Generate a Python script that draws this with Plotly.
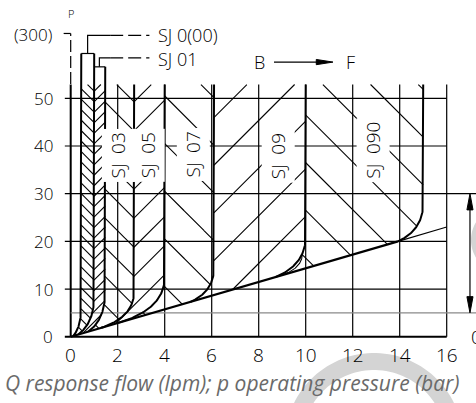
import numpy as np
import plotly.graph_objects as go

# ---------------- data ----------------
x_ticks = [0, 2, 4, 6, 8, 10, 12, 14, 16]
y_ticks = [0, 10, 20, 30, 40, 50]

valve_q      = [0.45, 1.0, 1.47, 2.7, 4.0, 6.1, 10.0, 15.0]
valve_top    = [59.4, 59.4, 56.6, 52.9, 52.9, 52.9, 52.9, 52.9]
valve_bend   = [6.5, 8.5, 9.5, 9.5, 12.5, 14.5, 21.0, 28.0]
valve_meet_q = [0.11, 0.32, 0.75, 1.3, 2.05, 5.1, 8.7, 13.93]

# inner (second) bend line next to SJ 09
inner_q_start, inner_p_start, inner_q_meet = 9.86, 17.5, 8.88

diag_q = [0.0, 13.93, 16.0]
diag_p = [0.0, 20.0, 23.0]

band_names   = ["SJ 03", "SJ 05", "SJ 07", "SJ 09", "SJ 090"]
band_label_q = [2.03, 3.3, 5.2, 8.83, 12.88]
band_label_p = [38.1, 38.1, 38.2, 37.9, 39.1]

hatch_dir    = [-1, 1, -1, 1, -1, 1, -1]
hatch_period = [2.2, 2.2, 6.1, 6.1, 10.0, 10.0, 10.0]
hatch_phase  = [52.0, 49.3, 30.9, 24.9, 30.5, 26.0, 46.5]

# ---------------- geometry helpers ----------------
XR = [-3.0085, 17.2468]
YR = [-13.905, 70.62]
PX_Q = 23.5
PX_P = 4.768
slope = diag_p[1] / diag_q[1]
hatch_top = 52.9
hatch_m = PX_Q / PX_P  # 45 degrees on screen


def bez(q, vtop, vb, qm, n=80):
    vm = slope * qm
    p0 = np.array([q, vb])
    p1 = np.array([q, vm + 0.3 * (vb - vm)])
    p2 = np.array([qm, vm])
    t = np.linspace(0, 1, n)[:, None]
    pts = (1 - t) ** 2 * p0 + 2 * (1 - t) * t * p1 + t ** 2 * p2
    qs = np.concatenate([[q], pts[:, 0]])
    vs = np.concatenate([[vtop], pts[:, 1]])
    return qs, vs


curves = [bez(valve_q[i], valve_top[i], valve_bend[i], valve_meet_q[i]) for i in range(len(valve_q))]


def boundary(i, v):
    qs, vs = curves[i]
    qa = np.concatenate([[0.0], qs[::-1]])
    va = np.concatenate([[0.0], vs[::-1]])
    return np.interp(v, va, qa)


fig = go.Figure()


def add_line(xs, ys, width=1.2, color="black", dash=None):
    fig.add_trace(go.Scatter(x=xs, y=ys, mode="lines",
                             line=dict(color=color, width=width, dash=dash),
                             hoverinfo="skip", showlegend=False))


# grid
gx, gy = [], []
for y in y_ticks[1:]:
    gx += [-0.25, 16, None]
    gy += [y, y, None]
for x in x_ticks[1:]:
    gx += [x, x, None]
    gy += [0, hatch_top, None]
add_line(gx, gy, 1.2)
add_line([-0.25, 16], [0, 0], 2.0)
add_line([0, 0], [0, hatch_top], 2.0)
add_line([0, 0], [53.0, 63.6], 1.2, dash="12px,4px")
add_line([-0.3, 0], [63.6, 63.6], 1.2)
add_line([16, 17.4], [30, 30], 1.2)
add_line([0, 17.4], [5, 5], 1.2, color="#8a8a8a")

# hatching
for r in range(len(hatch_dir)):
    qL = valve_q[r]
    qR = valve_q[r + 1]
    Q = np.arange(0.0, qR + 0.004, 0.004)
    hx, hy = [], []
    for k in range(-40, 60):
        c = hatch_phase[r] + k * hatch_period[r]
        v = c + hatch_dir[r] * hatch_m * (Q - qL)
        ins = (v <= hatch_top) & (v >= slope * Q) & (Q >= boundary(r, v) - 0.01) & (Q <= boundary(r + 1, v) + 0.01)
        if not ins.any():
            continue
        xs = np.where(ins, Q, np.nan)
        ys = np.where(ins, v, np.nan)
        hx += list(xs) + [np.nan]
        hy += list(ys) + [np.nan]
    add_line(hx, hy, 1.1)

# valve curves
for i in range(len(valve_q)):
    qs, vs = curves[i]
    add_line(qs, vs, 2.0)
iq, iv = bez(inner_q_start, inner_p_start, inner_p_start, inner_q_meet)
add_line(iq, iv, 1.1)

# diagonal
add_line(diag_q[:2], diag_p[:2], 2.2)
add_line(diag_q[1:], diag_p[1:], 1.1)

# leaders at top
add_line([valve_q[0], valve_q[1]], [59.4, 59.4], 1.2)
add_line([0.72, 0.72, 1.68], [59.4, 63.2, 63.2], 1.2)
add_line([1.68, 3.35], [63.2, 63.2], 1.2, dash="13px,5px")
add_line([valve_q[1], valve_q[2]], [56.6, 56.6], 1.2)
add_line([1.22, 1.22, 1.68], [56.6, 58.5, 58.5], 1.2)
add_line([1.68, 3.35], [58.5, 58.5], 1.2, dash="13px,5px")

# B -> F arrow
add_line([8.65, 10.55], [57.6, 57.6], 1.2)
fig.add_trace(go.Scatter(x=[10.45, 11.16, 10.45, 10.45], y=[58.15, 57.6, 57.05, 58.15],
                         mode="lines", fill="toself", fillcolor="black",
                         line=dict(color="black", width=1), hoverinfo="skip", showlegend=False))

# right double arrow
add_line([16.99, 16.99], [8.0, 27.0], 1.2)
fig.add_trace(go.Scatter(x=[16.86, 16.99, 17.12, 16.86], y=[26.6, 30.0, 26.6, 26.6],
                         mode="lines", fill="toself", fillcolor="black",
                         line=dict(color="black", width=1), hoverinfo="skip", showlegend=False))
fig.add_trace(go.Scatter(x=[16.86, 16.99, 17.12, 16.86], y=[8.4, 5.0, 8.4, 8.4],
                         mode="lines", fill="toself", fillcolor="black",
                         line=dict(color="black", width=1), hoverinfo="skip", showlegend=False))


# light grey watermark rings (paper coordinates)
def ring_path(cx, cy, r_out, r_in, a0, a1, n=60):
    a = np.linspace(a0, a1, n)
    xo = (cx + r_out * np.cos(a)) / 476
    yo = 1 - (cy - r_out * np.sin(a)) / 403
    xi = (cx + r_in * np.cos(a[::-1])) / 476
    yi = 1 - (cy - r_in * np.sin(a[::-1])) / 403
    pts = [f"{x:.4f},{y:.4f}" for x, y in zip(np.concatenate([xo, xi]), np.concatenate([yo, yi]))]
    return "M" + " L".join(pts) + " Z"


shapes = [
    dict(type="path", xref="paper", yref="paper", layer="below",
         path=ring_path(374, 442, 89, 72, 0.15, np.pi - 0.15),
         fillcolor="#d4d4d4", line=dict(width=0)),
    dict(type="path", xref="paper", yref="paper", layer="below",
         path=ring_path(505, 240, 34, 20, np.pi / 2, 3 * np.pi / 2),
         fillcolor="#d4d4d4", line=dict(width=0)),
]

ann = []
FONT = "Open Sans"
W = 300
for y in y_ticks:
    ann.append(dict(x=-0.66, y=y, text=str(y), xanchor="right", yanchor="middle",
                    showarrow=False, font=dict(family=FONT, size=17, color="black", weight=W)))
for x in x_ticks:
    ann.append(dict(x=x, y=-3.9, text=str(x), xanchor="center", yanchor="middle",
                    showarrow=False, font=dict(family=FONT, size=19, color="black", weight=W)))
ann.append(dict(x=16.93, y=0, text="0", xanchor="left", yanchor="middle",
                showarrow=False, font=dict(family=FONT, size=19, color="black", weight=W)))
ann.append(dict(x=-0.7, y=63.4, text="(300)", xanchor="right", yanchor="middle",
                showarrow=False, font=dict(family=FONT, size=17, color="black", weight=W)))
ann.append(dict(x=0.0, y=67.8, text="P", xanchor="center", yanchor="middle",
                showarrow=False, font=dict(family=FONT, size=11, color="black", weight=W)))
ann.append(dict(x=3.63, y=63.2, text="SJ 0(00)", xanchor="left", yanchor="middle",
                showarrow=False, font=dict(family=FONT, size=18, color="black", weight=W)))
ann.append(dict(x=3.63, y=58.2, text="SJ 01", xanchor="left", yanchor="middle",
                showarrow=False, font=dict(family=FONT, size=18, color="black", weight=W)))
ann.append(dict(x=8.02, y=57.6, text="B", xanchor="center", yanchor="middle",
                showarrow=False, font=dict(family=FONT, size=18, color="black", weight=W)))
ann.append(dict(x=11.89, y=57.6, text="F", xanchor="center", yanchor="middle",
                showarrow=False, font=dict(family=FONT, size=18, color="black", weight=W)))
for name, q, p in zip(band_names, band_label_q, band_label_p):
    ann.append(dict(x=q, y=p, text=name.replace(" ", "\u2002"), textangle=-90,
                    xanchor="center", yanchor="middle",
                    showarrow=False, bgcolor="white", borderpad=3,
                    font=dict(family=FONT, size=19, color="black", weight=W)))
ann.append(dict(x=231.5 / 476, y=1 - 383 / 403, xref="paper", yref="paper",
                text="<i>Q response flow (lpm); p operating pressure (bar)</i>",
                xanchor="center", yanchor="middle", showarrow=False,
                font=dict(family="Open Sans", size=21, color="#6a6a6a")))

fig.update_layout(
    width=476, height=403,
    margin=dict(l=0, r=0, t=0, b=0),
    paper_bgcolor="white", plot_bgcolor="white",
    xaxis=dict(range=XR, visible=False, fixedrange=True),
    yaxis=dict(range=YR, visible=False, fixedrange=True),
    annotations=ann,
    shapes=shapes,
    showlegend=False,
)
fig.write_html("out.html", config={"displayModeBar": False},
               post_script="document.body.style.margin='0';")
